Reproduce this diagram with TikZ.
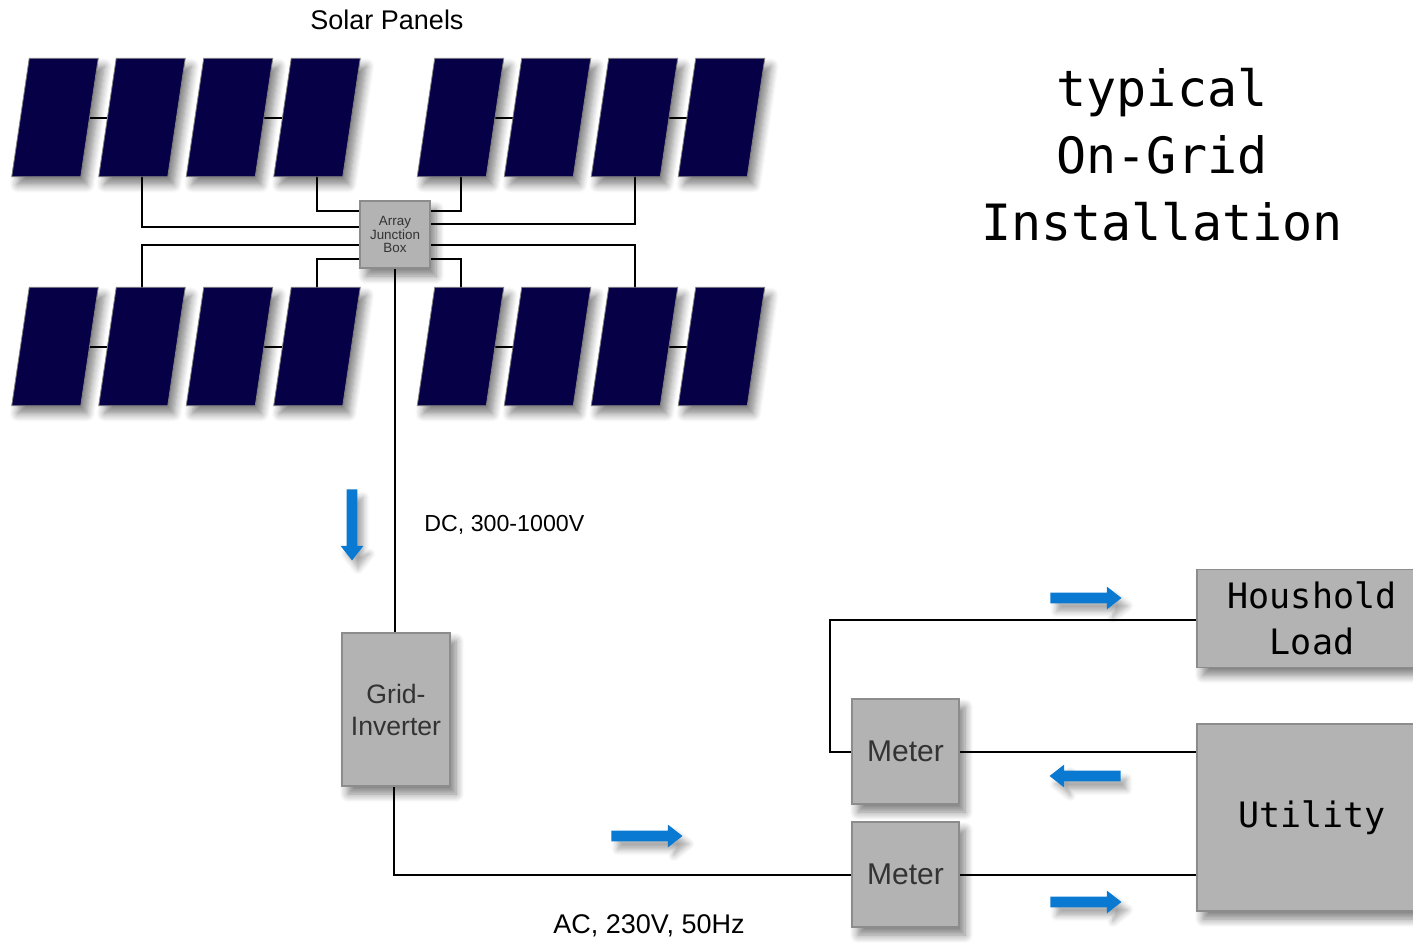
\documentclass[tikz,border=0pt]{standalone}
\usepackage{fontspec}
\setmainfont{Liberation Sans}
\newfontfamily\monofont{DejaVu Sans Mono}
\usetikzlibrary{calc,shapes.arrows,shadows.blur}
\definecolor{PanelBlue}{HTML}{060046}
\definecolor{BoxGray}{HTML}{B3B3B3}
\definecolor{BoxEdge}{HTML}{8C8C8C}
\definecolor{FlowBlue}{HTML}{0A79D1}
\definecolor{TextGray}{HTML}{333333}

\begin{document}
\begin{tikzpicture}[x=0.5pt, y=-0.5pt,
  wire/.style={line width=1pt, black},
  soft/.style={blur shadow={shadow xshift=3pt, shadow yshift=-4pt, shadow blur radius=4pt,
    shadow blur steps=8, shadow opacity=50}},
  panel/.style={fill=PanelBlue, draw=gray, line width=0.4pt, soft},
  box/.style={draw=BoxEdge, fill=BoxGray, line width=0.6pt, inner sep=0pt, soft},
  flow/.style={single arrow, fill=FlowBlue, inner xsep=0pt, inner ysep=2.5pt,
    text height=0pt, text depth=0pt, minimum height=35.5pt, minimum width=11pt,
    single arrow head extend=3pt, single arrow tip angle=76,
    blur shadow={shadow xshift=3pt, shadow yshift=-4pt, shadow blur radius=3pt,
    shadow blur steps=6, shadow opacity=35}}]
  \useasboundingbox (0,0) rectangle (1413,942);

  % panel centres, top row and bottom row
  \foreach \n/\x in {1/55, 2/142, 3/229.5, 4/317, 5/460.5, 6/547.5, 7/634.5, 8/721.5} {
    \coordinate (t\n) at (\x,117.5);
    \coordinate (b\n) at (\x,346.5);
  }
  % series links between neighbouring panels
  \foreach \r in {t,b}
    \foreach \m/\k in {1/2, 3/4, 5/6, 7/8}
      \draw[wire] (\r\m) -- (\r\k);

  \node[font=\fontsize{13.5}{16}\selectfont] (title) at (387,20) {Solar Panels};
  \node[box, minimum width=35pt, minimum height=33.5pt, align=center, text=TextGray,
        font=\fontsize{6.7}{6.7}\selectfont] (jbox) at (395,234.5) {Array\\Junction\\Box};

  % strings into the junction box
  \foreach \p/\side/\dy in {t2/west/-7.5, t4/west/-23.5, t5/east/-23.5, t7/east/-10.5,
                            b2/west/10.5, b4/west/24.5, b5/east/24.5, b7/east/10.5}
    \draw[wire] (\p) |- ($(jbox.\side)+(0,\dy)$);

  \foreach \n in {1,...,8}
    \foreach \r in {t,b}
      \path[panel, shift={(\r\n)}] (-43.25,59.2) -- (25.75,59.2) -- (43.25,-59.2) -- (-25.75,-59.2) -- cycle;

  \node[font=\monofont\fontsize{25}{33.5}\selectfont, align=center] (head) at (1162,155)
    {typical\\On-Grid\\Installation};

  \node[box, minimum width=54pt, minimum height=76.5pt, align=center, text=TextGray,
        font=\fontsize{13.3}{16}\selectfont] (inv) at (396,709.5) {Grid-\\Inverter};
  \node[box, minimum width=53.5pt, minimum height=52.5pt, text=TextGray,
        font=\fontsize{15}{18}\selectfont] (meter1) at (905.5,751.5) {Meter};
  \node[box, minimum width=53.5pt, minimum height=52.5pt, text=TextGray,
        font=\fontsize{15}{18}\selectfont] (meter2) at (905.5,874.5) {Meter};
  \node[box, minimum width=115pt, minimum height=49pt, align=center,
        font=\monofont\fontsize{17.5}{23}\selectfont] (house) at (1312,618.5) {Houshold\\Load};
  \node[box, minimum width=115pt, minimum height=93.5pt,
        font=\monofont\fontsize{17.5}{23}\selectfont] (utility) at (1312,817.5) {Utility};

  \node[anchor=west, inner sep=0pt, font=\fontsize{11.6}{14}\selectfont] (dc) at (424,525) {DC, 300-1000V};
  \node[font=\fontsize{13.5}{16}\selectfont] (ac) at (649,926) {AC, 230V, 50Hz};

  % wiring
  \draw[wire] (jbox.south) -- (jbox.south |- inv.north);
  \draw[wire] ([xshift=-1pt]inv.south) |- (meter2.west);
  \draw[wire] (house.west |- 0,620) -| ($(meter1.west)+(-21,0)$) -- (meter1.west);
  \draw[wire] (meter1.east) -- (utility.west |- meter1.east);
  \draw[wire] (meter2.east) -- (utility.west |- meter2.east);

  % power flow
  \node[flow, rotate=-90] (dcflow) at (352,521.5) {};
  \node[flow] (acflow) at (643.5,836) {};
  \node[flow] (loadflow) at (1082.5,598) {};
  \node[flow, rotate=180] (buyflow) at (1088.5,776) {};
  \node[flow] (sellflow) at (1082.5,902) {};
\end{tikzpicture}
\end{document}
